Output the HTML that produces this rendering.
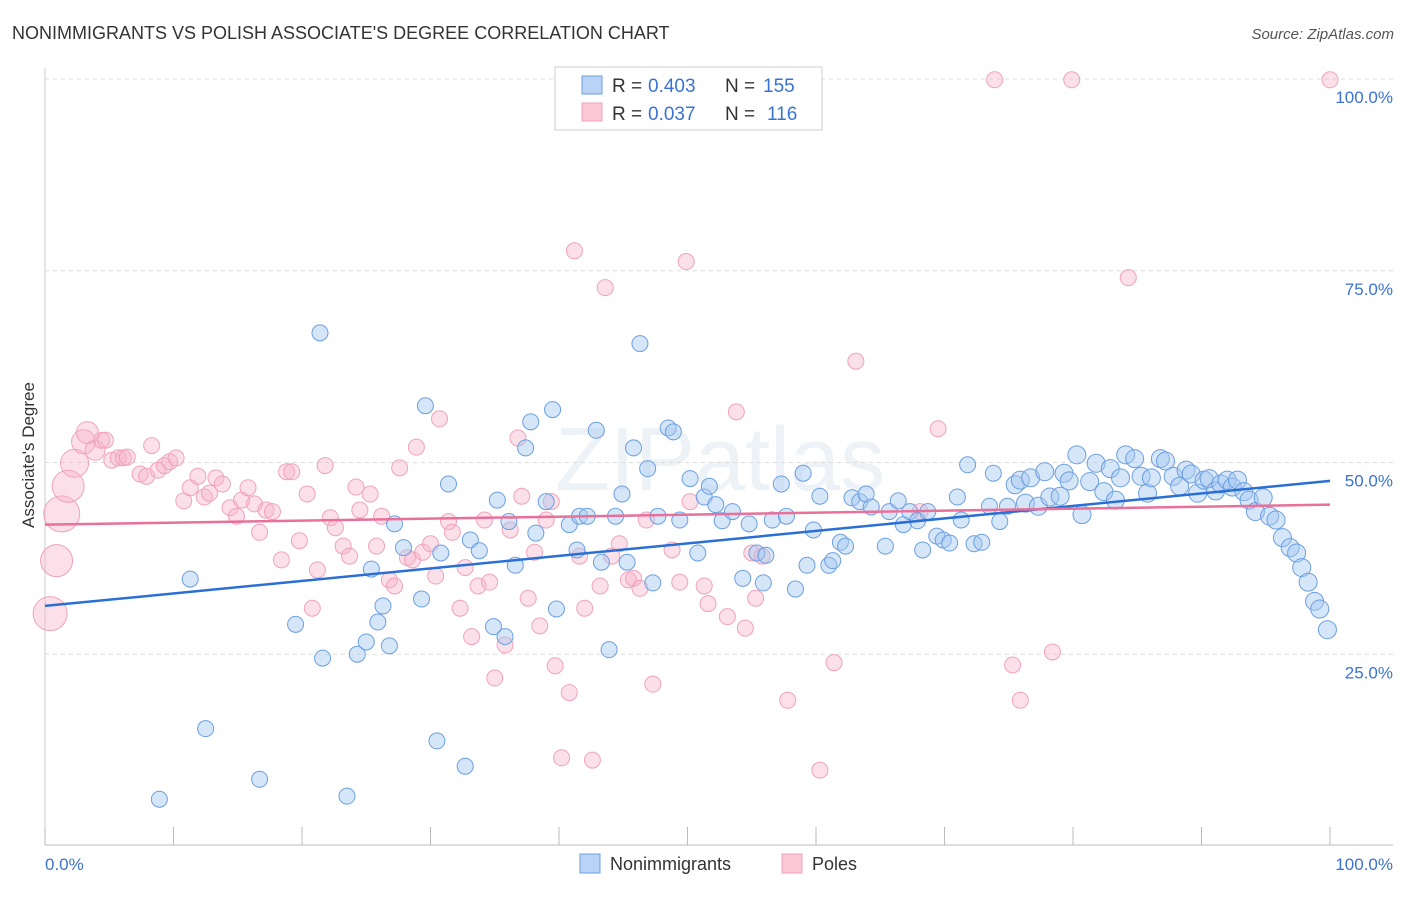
<!DOCTYPE html>
<html><head><meta charset="utf-8"><style>
body{margin:0;background:#fff;font-family:"Liberation Sans",sans-serif}
svg text{font-family:"Liberation Sans",sans-serif}
</style></head><body>
<svg id="chart" width="1406" height="892" xmlns="http://www.w3.org/2000/svg">
<text x="12" y="39" font-size="18" fill="#333">NONIMMIGRANTS VS POLISH ASSOCIATE'S DEGREE CORRELATION CHART</text>
<text x="1394" y="39" font-size="15" fill="#555" text-anchor="end" font-style="italic">Source: ZipAtlas.com</text>
<text x="720" y="490" font-size="90" fill="#dde6f0" text-anchor="middle" font-family="Liberation Serif" opacity="0.5">ZIPatlas</text>
<g id="grid"></g>
<g id="ticks"></g>
<g id="pink"></g>
<g id="blue"></g>
<g id="trends"></g>
<text transform="translate(34,455) rotate(-90)" font-size="17" fill="#333" text-anchor="middle">Associate's Degree</text>
<text x="45" y="870" font-size="17" fill="#3b73d4">0.0%</text>
<text x="1393" y="870" font-size="17" fill="#3b73d4" text-anchor="end">100.0%</text>
<g>
<rect x="555" y="67" width="267" height="63" fill="#fff" stroke="#ccc"/>
<rect x="582" y="76" width="20" height="18" fill="#b8d3f5" stroke="#6c9fe0"/>
<rect x="582" y="103" width="20" height="18" fill="#fbc8d8" stroke="#f0a0b8"/>
<text x="612" y="92" font-size="19" fill="#333">R =</text>
<text x="648" y="92" font-size="19" fill="#3b73d4">0.403</text>
<text x="725" y="92" font-size="19" fill="#333">N =</text>
<text x="763" y="92" font-size="19" fill="#3b73d4">155</text>
<text x="612" y="120" font-size="19" fill="#333">R =</text>
<text x="648" y="120" font-size="19" fill="#3b73d4">0.037</text>
<text x="725" y="120" font-size="19" fill="#333">N =</text>
<text x="767" y="120" font-size="19" fill="#3b73d4">116</text>
</g>
<g>
<rect x="580" y="854" width="20" height="19" fill="#b8d3f5" stroke="#6c9fe0"/>
<text x="610" y="870" font-size="18" fill="#333">Nonimmigrants</text>
<rect x="782" y="854" width="20" height="19" fill="#fbc8d8" stroke="#f0a0b8"/>
<text x="812" y="870" font-size="18" fill="#333">Poles</text>
</g>
</svg>
<script>
const yTicks=[25,50,75,100];
const yTickLabels=["25.0%","50.0%","75.0%","100.0%"];
const xTicks=[0,10,20,30,40,50,60,70,80,90,100];
const blueX=[8.9,11.3,12.5,16.7,19.5,21.4,21.6,23.5,24.3,25.0,25.4,25.9,26.3,26.8,27.2,27.9,29.3,29.6,30.5,30.8,31.4,32.7,33.1,33.8,34.9,35.2,35.8,36.1,36.6,37.4,37.8,38.2,39.0,39.5,39.8,40.8,41.4,41.6,42.2,42.9,43.3,43.9,44.4,44.9,45.3,45.8,46.3,46.9,47.3,47.7,48.5,48.9,49.4,50.2,50.8,51.3,51.7,52.2,52.7,53.5,54.3,54.8,55.4,55.9,56.1,56.6,57.3,57.7,58.4,59.0,59.3,59.8,60.3,61.0,61.3,61.9,62.3,62.8,63.4,63.9,64.3,65.4,65.7,66.4,66.8,67.3,67.9,68.3,68.7,69.4,69.9,70.4,71.0,71.3,71.8,72.3,72.9,73.5,73.8,74.3,74.9,75.5,75.9,76.3,76.7,77.3,77.8,78.2,79.0,79.3,79.7,80.3,80.7,81.3,81.8,82.4,82.9,83.3,83.7,84.1,84.8,85.3,85.8,86.1,86.8,87.2,87.8,88.3,88.8,89.2,89.7,90.2,90.6,91.1,91.5,92.0,92.4,92.8,93.3,93.7,94.2,94.8,95.3,95.8,96.3,96.9,97.4,97.8,98.3,98.8,99.2,99.8];
const blueY=[6.1,34.8,15.3,8.7,28.9,66.9,24.5,6.5,25.0,26.6,36.1,29.2,31.3,26.1,42.0,38.9,32.2,57.4,13.7,38.2,47.2,10.4,39.9,38.5,28.6,45.1,27.3,42.3,36.6,51.9,55.3,40.8,44.9,56.9,30.9,41.9,38.6,43.0,43.0,54.2,37.0,25.6,43.0,45.9,37.0,51.9,65.5,49.2,34.3,43.0,54.5,54.0,42.5,47.9,38.2,45.5,46.9,44.5,42.4,43.6,34.9,42.0,38.2,34.3,37.9,42.5,47.2,43.0,33.5,48.6,36.6,41.2,45.6,36.6,37.2,39.6,39.1,45.4,44.9,45.9,44.2,39.1,43.6,45.0,41.9,43.6,42.4,38.6,43.6,40.4,39.9,39.5,45.5,42.5,49.7,39.4,39.6,44.3,48.6,42.3,44.3,47.1,47.7,44.7,48.0,44.3,48.8,45.5,45.6,48.6,47.6,51.0,43.2,47.5,49.9,46.2,49.2,45.1,48.0,51.0,50.5,48.2,46.0,48.0,50.5,50.2,48.2,46.9,49.0,48.5,46.0,47.7,47.9,46.3,47.2,47.7,46.8,47.7,46.2,45.1,43.6,45.4,43.0,42.5,40.2,38.9,38.2,36.3,34.4,31.9,30.9,28.2];
const pinkX=[0.4,0.9,1.3,1.8,2.3,3.0,3.3,3.9,4.4,4.7,5.2,5.7,6.1,6.4,7.4,7.9,8.3,8.8,9.3,9.7,10.2,10.8,11.3,11.9,12.4,12.8,13.3,13.8,14.4,14.9,15.3,15.8,16.3,16.7,17.2,17.7,18.4,18.8,19.2,19.8,20.4,20.8,21.2,21.8,22.2,22.6,23.2,23.7,24.2,24.5,25.3,25.8,26.2,26.8,27.2,27.6,28.2,28.6,28.9,29.4,30.0,30.4,30.7,31.4,31.7,32.3,32.7,33.2,33.7,34.2,34.6,35.0,35.8,36.2,36.8,37.1,37.6,38.1,38.5,39.0,39.4,39.7,40.2,40.8,41.2,41.6,42.0,42.6,43.2,43.6,44.1,44.7,45.4,45.8,46.3,46.8,47.3,48.8,49.4,49.9,50.2,51.3,51.6,53.1,53.8,54.5,55.0,55.3,55.8,57.8,60.3,61.4,63.1,68.1,69.5,73.9,75.3,75.9,78.4,79.9,84.3,100];
const pinkY=[30.3,37.2,43.3,46.9,49.9,52.7,53.9,51.6,52.9,52.9,50.3,50.6,50.6,50.7,48.5,48.2,52.2,49.0,49.6,50.1,50.6,45.0,46.7,48.2,45.5,46.0,48.0,47.2,44.1,43.0,45.1,46.7,44.6,40.9,43.8,43.6,37.3,48.8,48.8,39.8,45.9,31.0,36.0,49.6,42.8,41.5,39.1,37.8,46.8,43.8,45.9,39.1,43.0,34.7,33.9,49.3,37.6,37.3,52.0,38.3,39.4,35.2,55.7,42.3,40.9,31.0,36.3,27.3,33.9,42.5,34.4,21.9,26.2,41.2,53.2,45.6,32.3,38.3,28.7,42.5,44.9,23.5,11.5,20.0,77.6,37.8,31.0,11.2,33.9,72.8,37.8,39.4,34.7,34.9,33.6,42.5,21.1,38.6,34.4,76.2,44.9,33.9,31.6,29.9,56.6,28.4,38.2,32.3,37.8,19.0,9.9,23.9,63.2,43.6,54.4,99.9,23.6,19.0,25.3,99.9,74.1,99.9];
const pinkBigR=[17,16,18,16,14,12,11,10];
const blueTrend=[[0,31.3],[100,47.6]];
const pinkTrend=[[0,41.9],[100,44.5]];
const NS='http://www.w3.org/2000/svg';
const X0=45,X1=1330,Y0=846,Y100=79;
function sx(v){return X0+(X1-X0)*v/100;}
function sy(v){return Y0-(Y0-Y100)*v/100;}
function mk(tag,attrs,parent){const e=document.createElementNS(NS,tag);for(const k in attrs)e.setAttribute(k,attrs[k]);parent.appendChild(e);return e;}
const grid=document.getElementById('grid');
yTicks.forEach((t,i)=>{
 const l=mk('line',{x1:X0,x2:1393,y1:sy(t),y2:sy(t),stroke:'#ddd','stroke-dasharray':'4,4'},grid);
 
 
 const tx=mk('text',{x:1393,y:sy(t)+24,'font-size':17,fill:'#3b73d4','text-anchor':'end'},grid);
 tx.textContent=yTickLabels[i];
 
 
});
const ax=mk('line',{x1:X0,x2:1393,y1:845,y2:845,stroke:'#bbb'},grid);


const ay=mk('line',{x1:X0,x2:X0,y1:68,y2:845,stroke:'#ccc'},grid);


const tk=document.getElementById('ticks');
xTicks.forEach(t=>{
 const l=mk('line',{x1:sx(t),x2:sx(t),y1:827,y2:845,stroke:'#bbb'},tk);
 
 
});
const pg=document.getElementById('pink');
pinkX.forEach((v,i)=>{
 const r=i<pinkBigR.length?pinkBigR[i]:8;
 const c=mk('circle',{cx:sx(v),cy:sy(pinkY[i]),r:r,fill:'rgba(247,178,201,0.4)',stroke:'#f0a3bb','stroke-width':1},pg);
 
 
});
const bg=document.getElementById('blue');
blueX.forEach((v,i)=>{
 const r=v>75?9:8;
 const c=mk('circle',{cx:sx(v),cy:sy(blueY[i]),r:r,fill:'rgba(164,199,242,0.45)',stroke:'#6c9fe0','stroke-width':1},bg);
 
 
});
const tg=document.getElementById('trends');
const bl=mk('line',{x1:sx(blueTrend[0][0]),y1:sy(blueTrend[0][1]),x2:sx(blueTrend[1][0]),y2:sy(blueTrend[1][1]),stroke:'#2a6fd6','stroke-width':2.5},tg);


const pl=mk('line',{x1:sx(pinkTrend[0][0]),y1:sy(pinkTrend[0][1]),x2:sx(pinkTrend[1][0]),y2:sy(pinkTrend[1][1]),stroke:'#e8709a','stroke-width':2.5},tg);


</script>
</body></html>
